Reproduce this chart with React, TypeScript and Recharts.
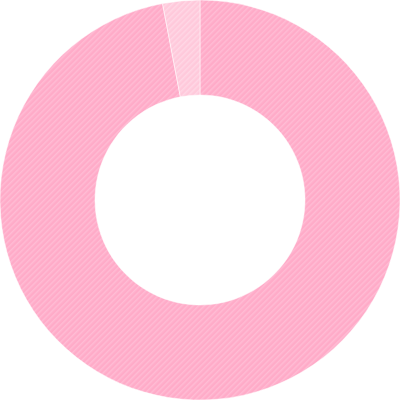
import React from "react";
import { Cell, Pie, PieChart } from "recharts";

const labels = ["A", "B"];
const values = [97, 3];
const fills = ["url(#hatchMain)", "url(#hatchLight)"];

const data = labels.map((name, i) => ({ name, value: values[i] }));

export default function App() {
  return (
    <div style={{ position: "fixed", left: 0, top: 0, width: 400, height: 400, background: "#fff" }}>
      <svg width={0} height={0} style={{ position: "absolute" }}>
        <defs>
          <pattern id="hatchMain" patternUnits="userSpaceOnUse" width={4} height={4} patternTransform="rotate(45)">
            <rect width={4} height={4} fill="#ffabc8" />
            <rect width={1.5} height={4} fill="#ffbcd4" />
          </pattern>
          <pattern id="hatchLight" patternUnits="userSpaceOnUse" width={4} height={4} patternTransform="rotate(45)">
            <rect width={4} height={4} fill="#ffc9db" />
            <rect width={1.5} height={4} fill="#ffd7e5" />
          </pattern>
        </defs>
      </svg>
      <PieChart width={400} height={400} margin={{ top: 0, right: 0, bottom: 0, left: 0 }}>
        <Pie
          data={data}
          dataKey="value"
          nameKey="name"
          cx={200}
          cy={200}
          outerRadius={200}
          innerRadius={105}
          startAngle={90}
          endAngle={-270}
          stroke="#fff"
          strokeWidth={0.5}
          isAnimationActive={false}
        >
          {data.map((d, i) => (
            <Cell key={d.name} fill={fills[i]} />
          ))}
        </Pie>
      </PieChart>
    </div>
  );
}
